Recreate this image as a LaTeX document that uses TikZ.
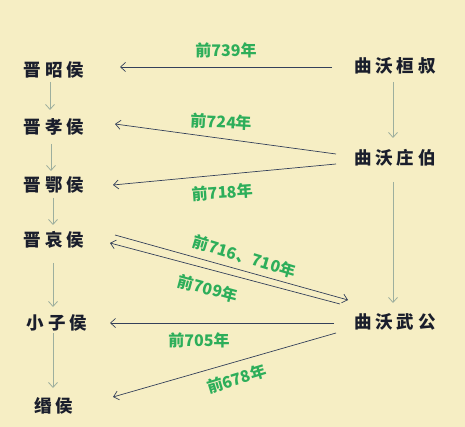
\documentclass[tikz,border=0pt]{standalone}
\usepackage{fontspec}
\setmainfont{Noto Sans CJK SC}
\newfontfamily\rulerfont[LetterSpace=22]{Noto Sans CJK SC}
\usepackage{tikz}
\usetikzlibrary{arrows.meta}
\definecolor{PaperYellow}{HTML}{F6EEC4}
\definecolor{InkNavy}{HTML}{1A1E2C}
\definecolor{ArrowNavy}{HTML}{34405A}
\definecolor{LineGreen}{HTML}{9DAF9E}
\definecolor{YearGreen}{HTML}{2DAE5A}

\begin{document}
\begin{tikzpicture}[
  x=1pt, y=-1pt,
  ruler/.style={text=InkNavy, font=\rulerfont\fontsize{17.5}{17.5}\selectfont\bfseries, inner sep=0pt},
  yearlbl/.style={text=YearGreen, font=\fontsize{16}{16}\selectfont\bfseries, inner sep=1pt},
  succ/.style={draw=LineGreen, line width=0.8pt, -{Straight Barb[length=5pt,width=9pt]}},
  attack/.style={draw=ArrowNavy, line width=0.7pt, -{Straight Barb[length=5pt,width=9pt]}}
]

\fill[PaperYellow] (0,0) rectangle (465,427);

\node[ruler] (zhao) at (54,70) {晋昭侯};
\node[ruler] (xiao) at (54,127) {晋孝侯};
\node[ruler] (e) at (54,185) {晋鄂侯};
\node[ruler] (ai) at (54,240) {晋哀侯};
\node[ruler] (xiaozi) at (57,323) {小子侯};
\node[ruler] (min) at (54,406) {缗侯};

\node[ruler] (huanshu) at (395,66) {曲沃桓叔};
\node[ruler] (zhuangbo) at (395,158) {曲沃庄伯};
\node[ruler] (wugong) at (395,322) {曲沃武公};

\draw[succ] ([shift={(-4,12)}]zhao.center) -- ([shift={(-4,-17)}]xiao.center);
\draw[succ] ([shift={(-3,17)}]xiao.center) -- ([shift={(-3,-14)}]e.center);
\draw[succ] ([shift={(-1,13)}]e.center) -- ([shift={(-1,-15)}]ai.center);
\draw[succ] ([shift={(-1,23)}]ai.center) -- ([shift={(-4,-16)}]xiaozi.center);
\draw[succ] ([shift={(-4,10)}]xiaozi.center) -- ([shift={(-1,-18)}]min.center);
\draw[succ] ([shift={(-2,16)}]huanshu.center) -- ([shift={(-2,-20)}]zhuangbo.center);
\draw[succ] ([shift={(-2,24)}]zhuangbo.center) -- ([shift={(-2,-19)}]wugong.center);

\draw[attack] ([shift={(-63,1)}]huanshu.center) -- node[yearlbl, midway, yshift=17pt] {前739年} ([shift={(66,-3)}]zhao.center);
\draw[attack] ([shift={(-59,-4)}]zhuangbo.center) -- node[yearlbl, midway, xshift=-4pt, yshift=17pt, rotate=-3] {前724年} ([shift={(61,-3)}]xiao.center);
\draw[attack] ([shift={(-59,6)}]zhuangbo.center) -- node[yearlbl, midway, xshift=-2pt, yshift=-18pt, rotate=4] {前718年} ([shift={(59,0)}]e.center);
\draw[attack] ([shift={(61,-5)}]ai.center) -- node[yearlbl, midway, xshift=13pt, yshift=11pt, rotate=-17] {前716、710年} ([shift={(-47,-22)}]wugong.center);
\draw[attack] ([shift={(-55,-18)}]wugong.center) -- node[yearlbl, midway, xshift=-17pt, yshift=-15pt, rotate=-15] {前709年} ([shift={(56,3)}]ai.center);
\draw[attack] ([shift={(-61,1)}]wugong.center) -- node[yearlbl, midway, xshift=-23pt, yshift=-17pt] {前705年} ([shift={(53,0)}]xiaozi.center);
\draw[attack] ([shift={(-59,11)}]wugong.center) -- node[yearlbl, midway, xshift=12pt, yshift=-14pt, rotate=17] {前678年} ([shift={(59,-9)}]min.center);

\end{tikzpicture}
\end{document}
